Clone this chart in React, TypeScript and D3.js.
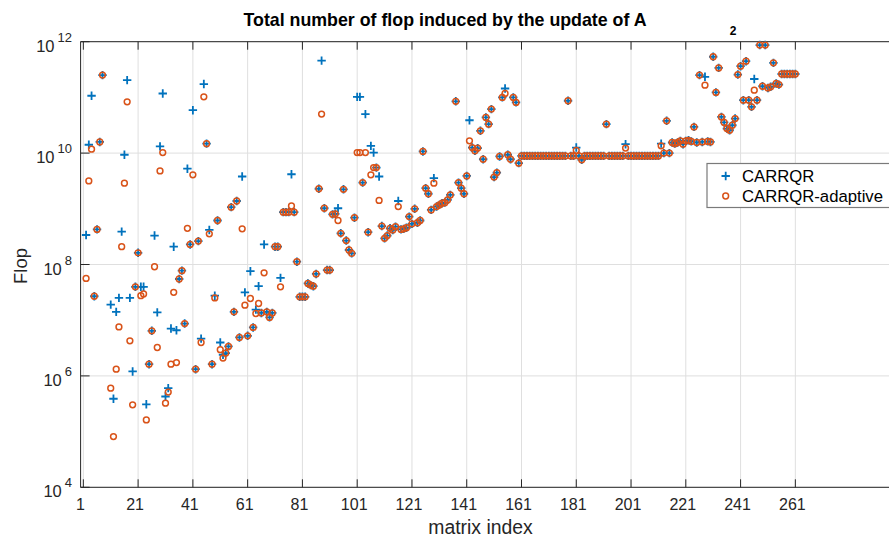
import * as d3 from 'd3';

// log10(flop) per matrix, index 1 first; null = no marker seen
const carrqrExp: (number | null)[] = [
  null, 8.53, 10.15, 11.03, 7.43, 8.63, 10.2, 11.4, null, null,
  7.28, 5.59, 7.15, 7.4, 8.59, 9.97, 11.31, 7.4, 6.08, 7.6,
  8.21, 7.6, 7.6, 5.49, 6.21, 6.81, 8.52, 7.14, 10.12, 11.07,
  5.63, 5.78, 6.85, 8.32, 6.82, 7.74, 7.89, 6.94, 9.72, 8.36,
  10.77, 6.12, 8.42, 6.67, 11.24, 10.17, 8.62, 6.21, 7.44, 8.79,
  6.6, 6.38, 6.41, 6.53, 9.03, 7.15, 9.14, 6.69, 9.58, 7.5,
  6.72, 7.88, 6.87, 7.19, 7.61, 7.13, 8.36, 7.15, 7.05, 7.13,
  8.32, 8.32, 7.76, 8.94, 8.94, 8.94, 9.62, 8.94, 8.05, 7.42,
  7.42, 7.42, 7.66, 7.63, 7.61, 7.83, 9.36, 11.66, 9.01, 7.9,
  7.9, 8.9, 8.91, 9.01, 8.56, 9.35, 8.43, 8.26, 8.2, 8.84,
  11.01, 11.01, 9.47, 10.7, 8.58, 10.13, 10.01, 9.74, 9.58, 8.69,
  8.47, 8.52, 8.65, 8.62, 8.68, 9.14, 8.63, 8.64, 8.66, 8.86,
  8.73, 9.0, 8.75, 8.79, 10.03, 9.37, 9.27, 8.98, 9.55, 9.04,
  9.07, 9.1, 9.11, 9.16, 9.25, null, 10.93, 9.47, 9.37, 9.27,
  9.59, 10.59, 10.1, 10.04, 10.09, 10.4, 9.89, 10.64, 10.52, 10.79,
  9.57, 9.65, 9.94, 11.0, 11.16, 9.97, 9.89, 11.0, 10.91, 9.82,
  9.95, 9.95, 9.95, 9.95, 9.95, 9.95, 9.95, 9.95, 9.95, 9.95,
  9.95, 9.95, 9.95, 9.95, 9.95, 9.95, 9.95, 10.94, 9.95, 9.95,
  10.1, 9.95, 9.88, 9.95, 9.95, 9.95, 9.95, 9.95, 9.95, 9.95,
  9.95, 10.52, 9.95, 9.95, 9.95, 9.95, 9.95, 9.95, 10.16, 9.95,
  9.95, 9.95, 9.95, 9.95, 9.95, 9.95, 9.95, 9.95, 9.95, 9.95,
  9.95, 10.17, 10.0, 10.58, 10.0, 10.19, 10.17, 10.19, 10.22, 10.16,
  10.22, 10.23, 10.21, 10.47, 10.19, 11.4, 10.2, 11.37, 10.21, 10.2,
  11.73, 11.09, 11.53, 10.65, 10.55, 10.44, 10.41, 10.5, 10.62, 11.41,
  11.56, 10.95, 11.65, 10.95, 10.83, 11.33, 10.95, 11.94, 11.2, 11.94,
  11.17, 11.19, 11.62, 11.25, 11.23, 11.42, 11.42, 11.42, 11.42, 11.42,
  11.42,
];

const adaptiveExp: (number | null)[] = [
  null, 7.75, 9.5, 10.07, 7.43, 8.63, 10.2, 11.4, null, null,
  5.78, 4.91, 6.12, 6.88, 8.32, 9.46, 10.92, 6.63, 5.48, 7.6,
  8.21, 7.44, 7.47, 5.21, 6.21, 6.81, 7.96, 6.51, 9.68, 10.01,
  5.51, 5.71, 6.21, 7.5, 6.24, 7.74, 7.89, 6.94, 8.65, 8.36,
  9.61, 6.12, 8.42, 6.6, 11.01, 10.17, 8.55, 6.21, 7.4, 8.79,
  6.47, 6.32, 6.41, 6.53, 9.03, 7.15, 9.14, 6.69, 8.64, 7.27,
  6.72, 7.39, 6.87, 7.12, 7.3, 7.13, 7.85, 7.15, 7.05, 7.13,
  8.32, 8.32, 7.6, 8.94, 8.94, 8.94, 9.05, 8.94, 8.05, 7.42,
  7.42, 7.42, 7.66, 7.63, 7.61, 7.83, 9.36, 10.7, 9.01, 7.9,
  7.9, 8.9, 8.91, 8.79, 8.56, 9.35, 8.43, 8.26, 8.2, 8.84,
  10.01, 10.01, 9.47, 10.01, 8.58, 9.61, 9.74, 9.74, 9.15, 8.69,
  8.47, 8.52, 8.65, 8.62, 8.68, 9.04, 8.63, 8.64, 8.66, 8.86,
  8.73, 9.0, 8.75, 8.79, 10.03, 9.37, 9.27, 8.98, 9.46, 9.04,
  9.07, 9.1, 9.11, 9.16, 9.25, null, 10.93, 9.47, 9.37, 9.27,
  9.59, 10.22, 10.1, 10.04, 10.09, 10.4, 9.89, 10.64, 10.52, 10.79,
  9.57, 9.65, 9.94, 11.0, 11.07, 9.97, 9.89, 11.0, 10.91, 9.82,
  9.95, 9.95, 9.95, 9.95, 9.95, 9.95, 9.95, 9.95, 9.95, 9.95,
  9.95, 9.95, 9.95, 9.95, 9.95, 9.95, 9.95, 10.94, 9.95, 9.95,
  10.05, 9.95, 9.88, 9.95, 9.95, 9.95, 9.95, 9.95, 9.95, 9.95,
  9.95, 10.52, 9.95, 9.95, 9.95, 9.95, 9.95, 9.95, 10.09, 9.95,
  9.95, 9.95, 9.95, 9.95, 9.95, 9.95, 9.95, 9.95, 9.95, 9.95,
  9.95, 10.13, 10.0, 10.58, 10.0, 10.19, 10.17, 10.19, 10.22, 10.16,
  10.22, 10.23, 10.21, 10.47, 10.19, 11.4, 10.2, 11.22, 10.21, 10.2,
  11.73, 11.09, 11.53, 10.65, 10.55, 10.44, 10.41, 10.5, 10.62, 11.41,
  11.56, 10.95, 11.65, 10.95, 10.83, 11.13, 10.95, 11.94, 11.2, 11.94,
  11.17, 11.19, 11.62, 11.25, 11.23, 11.42, 11.42, 11.42, 11.42, 11.42,
  11.42,
];

const xTicks = [1, 21, 41, 61, 81, 101, 121, 141, 161, 181, 201, 221, 241, 261];
const yTickExps = [4, 6, 8, 10, 12];
const seriesNames = ['CARRQR', 'CARRQR-adaptive'];

const W = 889;
const H = 537;
const FONT = '"Liberation Sans", Arial, Helvetica, sans-serif';
const BLUE = '#0072BD';
const ORANGE = '#D95319';
const AX = '#262626';

export default function App() {
  // axes box runs past the right edge of the picture
  const x = d3.scaleLinear().domain([0, 300]).range([80.6, 80.6 + 300 * 2.7385]);
  const y = d3.scaleLog().domain([1e4, 1e12]).range([487.3, 41.7]);
  const top = y(1e12);
  const bottom = y(1e4);
  const left = x(0);

  const toPoints = (arr: (number | null)[]) =>
    arr
      .map((e, i) => ({ idx: i + 1, v: e == null ? null : Math.pow(10, e) }))
      .filter((d) => d.v != null) as { idx: number; v: number }[];

  const pts1 = toPoints(carrqrExp);
  const pts2 = toPoints(adaptiveExp);

  const plus = (cx: number, cy: number, key: string | number) => (
    <path
      key={key}
      d={`M${cx - 4.2},${cy}H${cx + 4.2}M${cx},${cy - 4.2}V${cy + 4.2}`}
      stroke={BLUE}
      strokeWidth={1.8}
      fill='none'
    />
  );
  const circ = (cx: number, cy: number, key: string | number) => (
    <circle key={key} cx={cx} cy={cy} r={2.9} fill='none' stroke={ORANGE} strokeWidth={1.5} />
  );

  return (
    <svg
      width={W}
      height={H}
      style={{ position: 'absolute', left: 0, top: 0, background: '#fff' }}
      fontFamily={FONT}
    >
      <rect x={0} y={0} width={W} height={H} fill='#fff' />
      {/* grid */}
      {xTicks.map((t) => (
        <line key={'gx' + t} x1={x(t)} x2={x(t)} y1={top} y2={bottom} stroke='#dfdfdf' strokeWidth={1} />
      ))}
      {yTickExps.map((e) => (
        <line key={'gy' + e} x1={left} x2={W} y1={y(10 ** e)} y2={y(10 ** e)} stroke='#dfdfdf' strokeWidth={1} />
      ))}

      {/* axes */}
      <line x1={left} x2={W} y1={top} y2={top} stroke={AX} />
      <line x1={left} x2={W} y1={bottom} y2={bottom} stroke={AX} />
      <line x1={left} x2={left} y1={top} y2={bottom} stroke={AX} />
      {xTicks.map((t) => (
        <g key={'tx' + t}>
          <line x1={x(t)} x2={x(t)} y1={bottom} y2={bottom - 8} stroke={AX} />
          <line x1={x(t)} x2={x(t)} y1={top} y2={top + 8} stroke={AX} />
          <text x={x(t) - 3} y={510} textAnchor='middle' fontSize={16} fill={AX}>
            {t}
          </text>
        </g>
      ))}
      {yTickExps.map((e) => (
        <g key={'ty' + e}>
          <line x1={left} x2={left + 9} y1={y(10 ** e)} y2={y(10 ** e)} stroke={AX} />
          <text x={72} y={y(10 ** e) + 10} textAnchor='end' fontSize={16.5} fill={AX}>
            10
            <tspan dx={3} dy={-10} fontSize={13}>
              {e}
            </tspan>
          </text>
        </g>
      ))}

      {/* markers */}
      {pts1.map((d) => plus(x(d.idx), y(d.v), 'p' + d.idx))}
      {pts2.map((d) => circ(x(d.idx), y(d.v), 'c' + d.idx))}

      {/* labels */}
      <text x={445} y={26} textAnchor='middle' fontSize={17.8} fontWeight='bold' fill='#000'>
        Total number of flop induced by the update of A
      </text>
      <text x={733} y={35} textAnchor='middle' fontSize={12} fontWeight='bold' fill='#000'>
        2
      </text>
      <text x={480.5} y={534} textAnchor='middle' fontSize={19.4} fill={AX}>
        matrix index
      </text>
      <text transform='translate(27,266) rotate(-90)' textAnchor='middle' fontSize={18.5} fill={AX}>
        Flop
      </text>

      {/* legend */}
      <rect x={707} y={163.5} width={200} height={44} fill='#fff' stroke='#7a7a7a' strokeWidth={1.2} />
      {plus(725.7, 176, 'lp')}
      {circ(725.7, 196, 'lc')}
      <text x={742} y={182} fontSize={16.7} fill='#000'>
        {seriesNames[0]}
      </text>
      <text x={742} y={202} fontSize={16.7} fill='#000'>
        {seriesNames[1]}
      </text>
    </svg>
  );
}
